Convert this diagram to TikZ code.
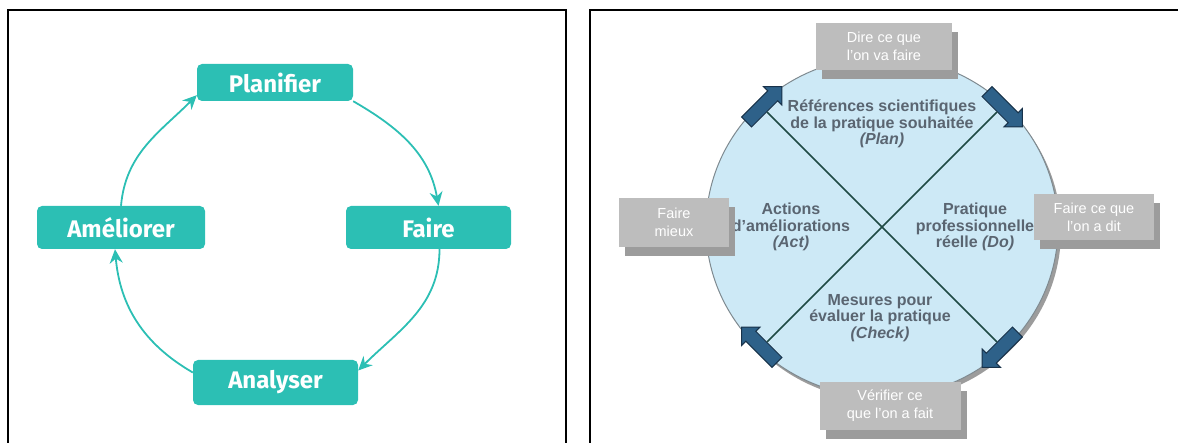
\documentclass[tikz,border=0pt]{standalone}
\usepackage{fontspec}
\setmainfont{Liberation Sans}
\newfontfamily\stepfont{Fira Sans}
\usetikzlibrary{arrows.meta,shapes.arrows,shadows}

\definecolor{pdcaTeal}{HTML}{2CBFB4}
\definecolor{noteGray}{HTML}{BDBDBD}
\definecolor{shadowGray}{HTML}{9C9C9C}
\definecolor{discBlue}{HTML}{CDE9F6}
\definecolor{discEdge}{HTML}{7F8A90}
\definecolor{phaseInk}{HTML}{5A6571}
\definecolor{arrowBlue}{HTML}{2E6189}
\definecolor{arrowEdge}{HTML}{18324A}
\definecolor{crossInk}{HTML}{1F4A44}

\tikzset{
  stepBox/.style={rectangle, rounded corners=5pt, fill=pdcaTeal, text=white, font=\stepfont\bfseries\fontsize{24}{26}\selectfont},
  cycleArrow/.style={draw=pdcaTeal, line width=1.8pt, -{Stealth[length=14pt,width=13pt]}},
  noteBox/.style={rectangle, fill=noteGray, text=white, align=center, font=\fontsize{14.5}{18}\selectfont, drop shadow={shadow xshift=6pt, shadow yshift=-9pt, fill=shadowGray, opacity=1}},
  phaseText/.style={text=phaseInk, align=center, font=\bfseries\fontsize{16}{16.5}\selectfont},
  flowArrow/.style={single arrow, draw=arrowEdge, fill=arrowBlue, line width=1pt, minimum height=50pt, inner xsep=0pt, inner ysep=6.5pt, single arrow head extend=6pt, single arrow head indent=0pt},
  crossLine/.style={draw=crossInk, line width=1.6pt},
  panelFrame/.style={draw=black, line width=2.2pt}
}

\begin{document}
\begin{tikzpicture}[x=1pt, y=1pt]
\useasboundingbox (0,0) rectangle (1178,442);

% Frames
\draw[panelFrame] (8,-5) |- (566,432) -- (566,-5);
\draw[panelFrame] (590,-5) |- (1190,432);

% Left cycle
\node[stepBox, minimum width=156pt, minimum height=37pt] (Plan) at (275,359.5) {Planifier};
\node[stepBox, minimum width=165pt, minimum height=43pt] (Faire) at (428.5,214.5) {Faire};
\node[stepBox, minimum width=165pt, minimum height=45pt] (Anal) at (275.5,59.5) {Analyser};
\node[stepBox, minimum width=168pt, minimum height=43pt] (Amel) at (121,214.5) {Améliorer};

\draw[cycleArrow] (Plan.south east) to[out=-30, in=100] ([xshift=10pt]Faire.north);
\draw[cycleArrow] ([xshift=11pt]Faire.south) to[out=-90, in=45] ([yshift=12pt]Anal.east);
\draw[cycleArrow] ([yshift=10pt]Anal.west) to[out=150, in=-85] ([xshift=-6pt]Amel.south);
\draw[cycleArrow] (Amel.north) to[out=85, in=-135] ([yshift=6pt]Plan.south west);

% Right disc
\coordinate (C) at (882,215);
\fill[shadowGray] ([shift={(3,-4)}]C) ellipse [x radius=176, y radius=170];
\draw[fill=discBlue, draw=discEdge, line width=1pt] (C) ellipse [x radius=176, y radius=170];

% Phase texts
\node[phaseText] (tPlan) at (882,318) {Références scientifiques\\de la pratique souhaitée\\\textit{(Plan)}};
\node[phaseText] (tAct) at (791,215) {Actions\\d'améliorations\\\textit{(Act)}};
\node[phaseText] (tDo) at (975,215) {Pratique\\professionnelle\\réelle \textit{(Do)}};
\node[phaseText] (tCheck) at (880,124) {Mesures pour\\évaluer la pratique\\\textit{(Check)}};

% Rim arrows and cross
\foreach \name/\ang in {aAct/135, aPlan/45, aDo/-45, aCheck/-135} {
  \node[flowArrow, rotate=\ang-90] (\name) at ([shift={(\ang:170)}]C) {};
}
\draw[crossLine] (aAct) -- (aDo);
\draw[crossLine] (aPlan) -- (aCheck);

% Notes
\node[noteBox, minimum width=136pt, minimum height=47pt] (nPlan) at (884,395.5) {Dire ce que\\l'on va faire};
\node[noteBox, minimum width=110pt, minimum height=49pt] (nAct) at (674,219.5) {Faire\\mieux};
\node[noteBox, minimum width=120pt, minimum height=46pt] (nDo) at (1094,225) {Faire ce que\\l'on a dit};
\node[noteBox, minimum width=141pt, minimum height=48pt] (nCheck) at (890,36) {Vérifier ce\\que l'on a fait};

\end{tikzpicture}
\end{document}
